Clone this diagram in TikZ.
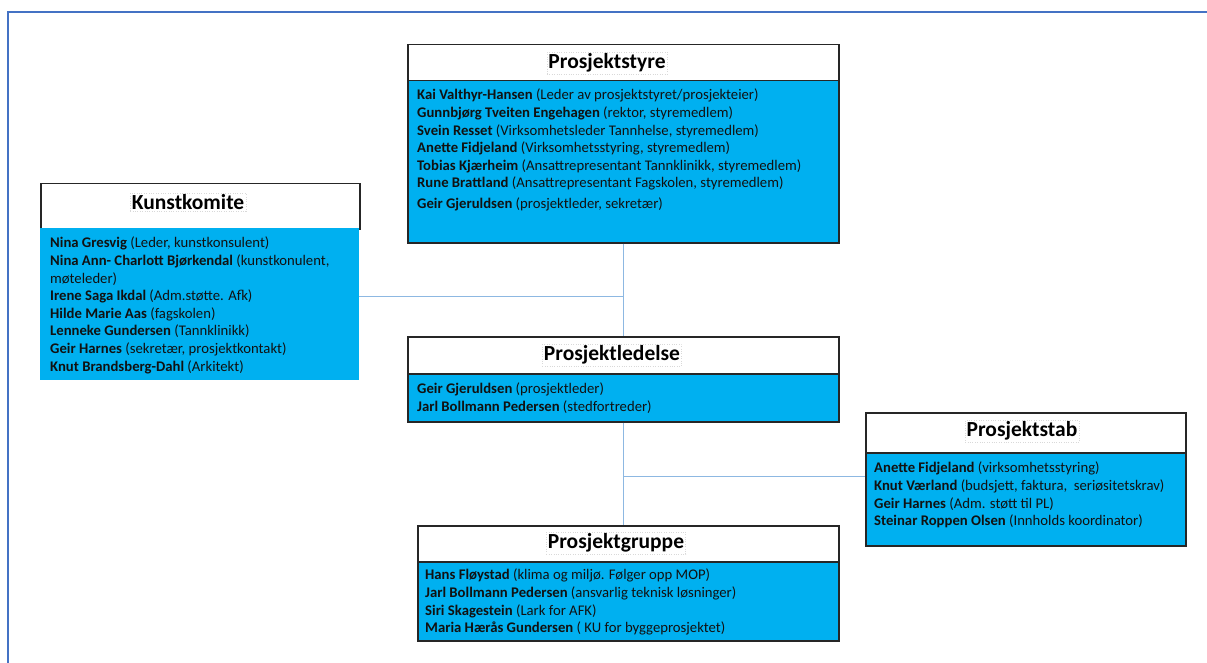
\documentclass[tikz,border=0pt]{standalone}
\usepackage{fontspec}
\setmainfont{Carlito}
\definecolor{boxblue}{HTML}{00B0F0}
\definecolor{framecol}{HTML}{4472C4}
\definecolor{linkcol}{HTML}{8DB8E2}
\definecolor{edgecol}{HTML}{262626}
\definecolor{bodytext}{HTML}{111111}
\tikzset{
  hdr/.style={draw=edgecol, line width=1.5pt, fill=white, anchor=north west, inner sep=0pt},
  bodybox/.style={draw=edgecol, line width=1.5pt, fill=boxblue, anchor=north west, inner sep=0pt},
  plainbody/.style={fill=boxblue, anchor=north west, inner sep=0pt},
  ttl/.style={font=\fontsize{21.5}{24}\selectfont\bfseries, inner sep=1.5pt, draw=gray!30, dotted},
  body/.style={anchor=north west, inner sep=0pt, align=left, font=\fontsize{14.7}{17.6}\selectfont, text=bodytext},
  link/.style={draw=linkcol, line width=1pt},
  frameline/.style={draw=framecol, line width=2pt}
}
\begin{document}
\begin{tikzpicture}[x=1pt,y=-1pt]
\useasboundingbox (0,0) rectangle (1207,663);
\fill[white] (0,0) rectangle (1207,663);
\draw[frameline] (8,663) -- (8,12) -- (1207,12);

% Prosjektstyre
\node[hdr, minimum width=431pt, minimum height=36pt] (styH) at (407,44) {};
\node[bodybox, minimum width=431pt, minimum height=162pt] (styB) at (407,80) {};
\node[ttl] (styT) at (607,63) {Prosjektstyre};
\node[body] (styX) at (417,88.9) {\textbf{Kai Valthyr-Hansen} (Leder av prosjektstyret/prosjekteier)\\
\textbf{Gunnbjørg Tveiten Engehagen} (rektor, styremedlem)\\
\textbf{Svein Resset} (Virksomhetsleder Tannhelse, styremedlem)\\
\textbf{Anette Fidjeland} (Virksomhetsstyring, styremedlem)\\
\textbf{Tobias Kjærheim} (Ansattrepresentant Tannklinikk, styremedlem)\\
\textbf{Rune Brattland} (Ansattrepresentant Fagskolen, styremedlem)\\[3.4pt]
\textbf{Geir Gjeruldsen} (prosjektleder, sekretær)};

% Kunstkomite
\node[hdr, minimum width=319pt, minimum height=45pt] (kunH) at (40,183) {};
\node[plainbody, minimum width=319pt, minimum height=152pt] (kunB) at (40,228) {};
\node[ttl] (kunT) at (188,202) {Kunstkomite};
\node[body] (kunX) at (50,236.9) {\textbf{Nina Gresvig} (Leder, kunstkonsulent)\\
\textbf{Nina Ann- Charlott Bjørkendal} (kunstkonulent,\\
møteleder)\\
\textbf{Irene Saga Ikdal} (Adm.støtte. Afk)\\
\textbf{Hilde Marie Aas} (fagskolen)\\
\textbf{Lenneke Gundersen} (Tannklinikk)\\
\textbf{Geir Harnes} (sekretær, prosjektkontakt)\\
\textbf{Knut Brandsberg-Dahl} (Arkitekt)};

% Prosjektledelse
\node[hdr, minimum width=431pt, minimum height=37pt] (ledH) at (407,336) {};
\node[bodybox, minimum width=431pt, minimum height=48pt] (ledB) at (407,373) {};
\node[ttl] (ledT) at (612,355) {Prosjektledelse};
\node[body] (ledX) at (417,382.9) {\textbf{Geir Gjeruldsen} (prosjektleder)\\
\textbf{Jarl Bollmann Pedersen} (stedfortreder)};

% Prosjektstab
\node[hdr, minimum width=320pt, minimum height=40pt] (stabH) at (865,412) {};
\node[bodybox, minimum width=320pt, minimum height=93pt] (stabB) at (865,452) {};
\node[ttl] (stabT) at (1022,431) {Prosjektstab};
\node[body] (stabX) at (874,461.9) {\textbf{Anette Fidjeland} (virksomhetsstyring)\\
\textbf{Knut Værland} (budsjett, faktura,\ \ seriøsitetskrav)\\
\textbf{Geir Harnes} (Adm. støtt til PL)\\
\textbf{Steinar Roppen Olsen} (Innholds koordinator)};

% Prosjektgruppe
\node[hdr, minimum width=421pt, minimum height=36pt] (grpH) at (417,525) {};
\node[bodybox, minimum width=421pt, minimum height=79pt] (grpB) at (417,561) {};
\node[ttl] (grpT) at (616,543) {Prosjektgruppe};
\node[body] (grpX) at (425,568.9) {\textbf{Hans Fløystad} (klima og miljø. Følger opp MOP)\\
\textbf{Jarl Bollmann Pedersen} (ansvarlig teknisk løsninger)\\
\textbf{Siri Skagestein} (Lark for AFK)\\
\textbf{Maria Hærås Gundersen} ( KU for byggeprosjektet)};

% connectors
\coordinate (j1) at (623,296);
\coordinate (j2) at (623,476);
\draw[link] (styB.south -| j1) -- (ledH.north -| j1);
\draw[link] (kunB.east |- j1) -- (j1);
\draw[link] (ledB.south -| j2) -- (grpH.north -| j2);
\draw[link] (j2) -- (stabB.west |- j2);
\end{tikzpicture}
\end{document}
